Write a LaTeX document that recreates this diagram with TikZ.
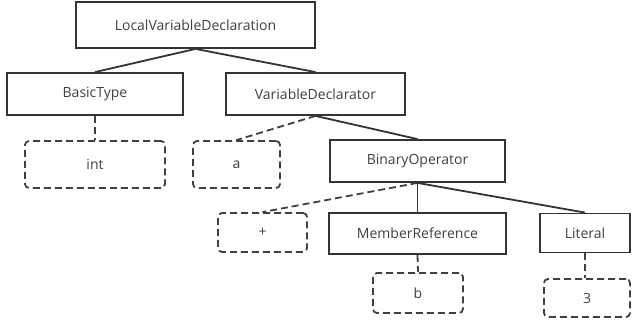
\documentclass[tikz,border=0pt]{standalone}
\usepackage{fontspec}
\setmainfont{Open Sans}
\usepackage{tikz}

\begin{document}
\begin{tikzpicture}[x=1pt,y=-1pt,
    inner/.style={draw=black!80,line width=1.8pt,text=black!75,font=\fontsize{14}{16}\selectfont,inner sep=0pt},
    leaf/.style={draw=black!75,line width=1.8pt,dash pattern=on 7pt off 4pt,rounded corners=4pt,text=black!75,font=\fontsize{14}{16}\selectfont,inner sep=0pt},
    solidedge/.style={draw=black!80,line width=1.8pt},
    dashedge/.style={draw=black!75,line width=1.8pt,dash pattern=on 7pt off 4pt}]
    % 画布范围
    \useasboundingbox (0,0) rectangle (632,321);

    % 非终结节点
    \node[inner,minimum width=239pt,minimum height=46pt] (lvd) at (195.5,25) {LocalVariableDeclaration};
    \node[inner,minimum width=176pt,minimum height=42pt] (basic) at (95,94) {BasicType};
    \node[inner,minimum width=179pt,minimum height=42pt] (vd) at (315.5,94) {VariableDeclarator};
    \node[inner,minimum width=175pt,minimum height=42pt] (binop) at (417.5,161) {BinaryOperator};
    \node[inner,minimum width=177pt,minimum height=41pt] (memref) at (417.5,233.5) {MemberReference};
    \node[inner,minimum width=90pt,minimum height=39pt] (literal) at (585,233) {Literal};

    % 终结节点
    \node[leaf,minimum width=140pt,minimum height=47pt] (int) at (95,164.5) {int};
    \node[leaf,minimum width=87pt,minimum height=47pt] (a) at (236.5,164.5) {a};
    \node[leaf,minimum width=89pt,minimum height=39pt] (plus) at (262.5,232.5) {+};
    \node[leaf,minimum width=90pt,minimum height=40pt] (b) at (418,293) {b};
    \node[leaf,minimum width=86pt,minimum height=38pt] (three) at (587,298) {3};

    % 连线
    \draw[solidedge] (lvd.south) -- (basic.north);
    \draw[solidedge] (lvd.south) -- (vd.north);
    \draw[dashedge] (basic.south) -- (int.north);
    \draw[dashedge] (vd.south) -- (a.north);
    \draw[solidedge] (vd.south) -- (binop.north);
    \draw[dashedge] (binop.south) -- (plus.north);
    \draw[solidedge] (binop.south) -- (memref.north);
    \draw[solidedge] (binop.south) -- (literal.north);
    \draw[dashedge] (memref.south) -- (b.north);
    \draw[dashedge] (literal.south) -- (literal.south |- three.north);

\end{tikzpicture}
\end{document}
